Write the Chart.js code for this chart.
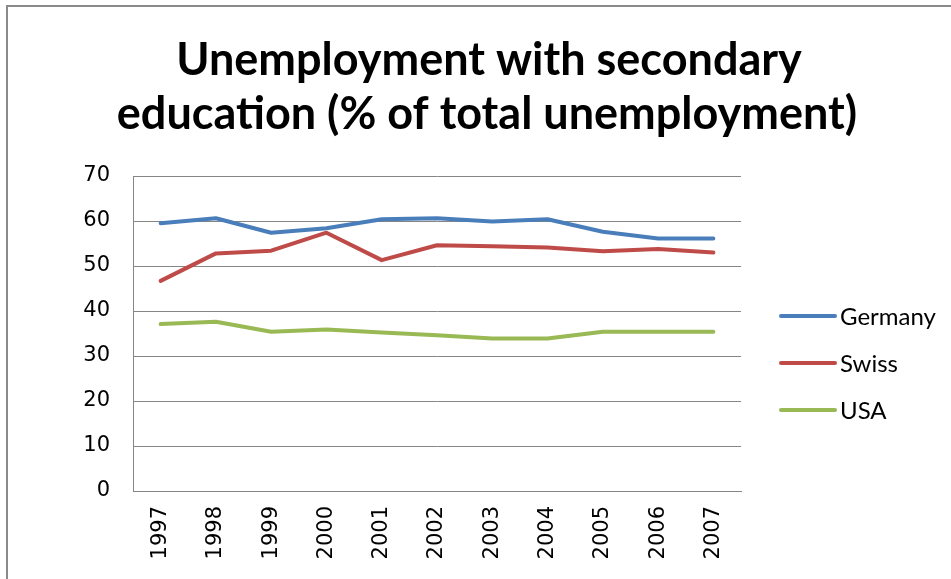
<!DOCTYPE html>
<html>
<head>
<meta charset="utf-8">
<script src="https://cdn.jsdelivr.net/npm/chart.js@4"></script>
<style>
  html, body { margin: 0; padding: 0; background: #ffffff; }
  #wrap { position: relative; width: 951px; height: 579px; overflow: hidden; }
  #frame { position: absolute; left: 6px; top: 5px; width: 960px; height: 600px;
           border-left: 2px solid #8a8a8a; border-top: 2px solid #8a8a8a; box-sizing: border-box; }
  canvas { position: absolute; left: 0; top: 0; }
</style>
</head>
<body>
<div id="wrap">
  <div id="frame"></div>
  <canvas id="chart" width="951" height="579"></canvas>
</div>
<script>
// Years on the category axis
const years = ['1997', '1998', '1999', '2000', '2001', '2002', '2003', '2004', '2005', '2006', '2007'];

// Share of unemployed people with secondary education (%)
const germany = [59.5, 60.6, 57.4, 58.4, 60.4, 60.6, 59.9, 60.4, 57.6, 56.1, 56.1];
const swiss   = [46.7, 52.8, 53.4, 57.4, 51.3, 54.6, 54.4, 54.1, 53.3, 53.8, 53.0];
const usa     = [37.1, 37.6, 35.4, 35.9, 35.2, 34.6, 33.9, 33.9, 35.4, 35.4, 35.4];

// Value axis range and step
const yMin = 0;
const yMax = 70;
const yStep = 10;

const titleLines = ['Unemployment with secondary', 'education (% of total unemployment)'];

const gridColor = '#868686';

// Title drawn as two centred bold lines above the plot
const titlePlugin = {
  id: 'twoLineTitle',
  afterDraw(chart) {
    const ctx = chart.ctx;
    ctx.save();
    ctx.fillStyle = '#000000';
    ctx.font = 'bold 45px Lato';
    ctx.textAlign = 'center';
    ctx.textBaseline = 'alphabetic';
    ctx.fillText(titleLines[0], 489, 75);
    ctx.fillText(titleLines[1], 487, 129);
    ctx.restore();
  }
};

// Legend on the right: a short line sample followed by the series name
const sideLegend = {
  id: 'sideLegend',
  afterDraw(chart) {
    const ctx = chart.ctx;
    const x0 = 781, x1 = 835, tx = 840;
    const top = 316, gap = 47;
    ctx.save();
    ctx.font = '24px Lato';
    ctx.textAlign = 'left';
    ctx.textBaseline = 'middle';
    chart.data.datasets.forEach((ds, i) => {
      const y = top + i * gap;
      ctx.strokeStyle = ds.borderColor;
      ctx.lineWidth = 4;
      ctx.lineCap = 'round';
      ctx.beginPath();
      ctx.moveTo(x0, y);
      ctx.lineTo(x1, y);
      ctx.stroke();
      ctx.fillStyle = '#000000';
      ctx.fillText(ds.label, tx, y + 1);
    });
    ctx.restore();
  }
};

const lineStyle = {
  borderWidth: 4,
  pointRadius: 0,
  pointHoverRadius: 0,
  tension: 0,
  borderCapStyle: 'round',
  borderJoinStyle: 'round',
  fill: false
};

new Chart(document.getElementById('chart'), {
  type: 'line',
  data: {
    labels: years,
    datasets: [
      Object.assign({ label: 'Germany', data: germany, borderColor: '#4a7ebb', backgroundColor: '#4a7ebb' }, lineStyle),
      Object.assign({ label: 'Swiss',   data: swiss,   borderColor: '#be4b48', backgroundColor: '#be4b48' }, lineStyle),
      Object.assign({ label: 'USA',     data: usa,     borderColor: '#98b954', backgroundColor: '#98b954' }, lineStyle)
    ]
  },
  options: {
    responsive: false,
    animation: false,
    layout: { padding: { top: 176, left: 0, right: 210, bottom: 0 } },
    plugins: {
      legend: { display: false },
      title: { display: false },
      tooltip: { enabled: false }
    },
    scales: {
      x: {
        offset: true,
        grid: { display: false, drawTicks: false },
        border: { display: true, color: gridColor, width: 1 },
        ticks: {
          color: '#000000',
          font: { family: 'DejaVu Sans', size: 21 },
          minRotation: 90,
          maxRotation: 90,
          padding: 15,
          autoSkip: false
        },
        afterFit(scale) { scale.height = 88; }
      },
      y: {
        min: yMin,
        max: yMax,
        ticks: {
          stepSize: yStep,
          color: '#000000',
          font: { family: 'DejaVu Sans', size: 21 },
          padding: 23
        },
        grid: { color: gridColor, lineWidth: 1, drawTicks: false },
        border: { display: true, color: gridColor, width: 1 },
        afterFit(scale) { scale.width = 133; }
      }
    }
  },
  plugins: [titlePlugin, sideLegend]
});
</script>
</body>
</html>
